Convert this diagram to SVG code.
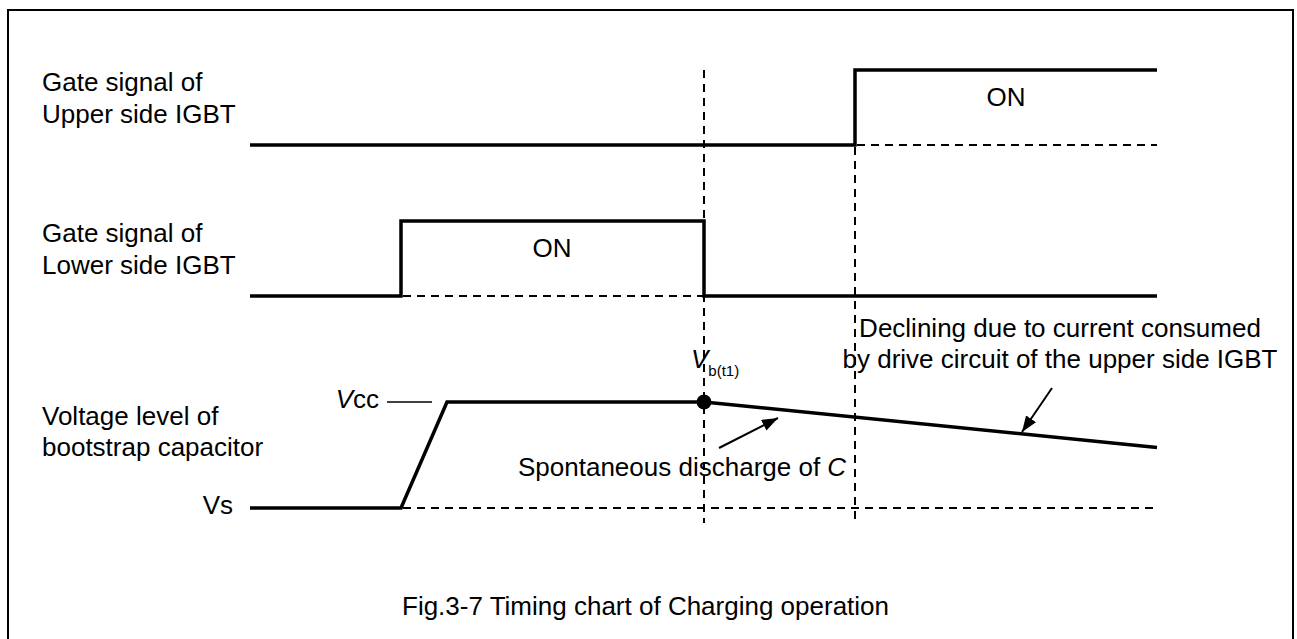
<svg xmlns="http://www.w3.org/2000/svg" width="1297" height="639" viewBox="0 0 1297 639">
<style>
text{font-family:"Liberation Sans",Arial,sans-serif;font-size:26px;fill:#000}
.w{fill:none;stroke:#000;stroke-width:3.5;stroke-linejoin:miter;stroke-linecap:butt}
.d{fill:none;stroke:#000;stroke-width:2;stroke-dasharray:8 6}
.t{fill:none;stroke:#000;stroke-width:1.5}
.a{fill:none;stroke:#000;stroke-width:2}
.i{font-style:italic}
.sub{font-size:15px}
</style>
<defs>
<marker id="ah" viewBox="0 0 16 12" refX="16" refY="6" markerWidth="16" markerHeight="12" markerUnits="userSpaceOnUse" orient="auto">
<path d="M0,0 L16,6 L0,12 Z" fill="#000"/>
</marker>
</defs>
<rect x="8" y="10" width="1285" height="660" fill="none" stroke="#000" stroke-width="2"/>
<g id="guides">
<line class="d" x1="704" y1="70" x2="704" y2="523"/>
<line class="d" x1="855" y1="147" x2="855" y2="523"/>
<line class="d" x1="857" y1="145" x2="1157" y2="145"/>
<line class="d" x1="403" y1="296" x2="704" y2="296"/>
<line class="d" x1="403" y1="508" x2="1157" y2="508"/>
</g>
<g id="upper-gate">
<text x="42" y="91">Gate signal of</text>
<text x="42" y="123">Upper side IGBT</text>
<polyline class="w" points="250,145 855,145 855,70 1157,70"/>
<text x="1006" y="106" text-anchor="middle">ON</text>
</g>
<g id="lower-gate">
<text x="42" y="242">Gate signal of</text>
<text x="42" y="274">Lower side IGBT</text>
<polyline class="w" points="250,296 401,296 401,221 704,221 704,296 1157,296"/>
<text x="552" y="257" text-anchor="middle">ON</text>
</g>
<g id="bootstrap-voltage">
<text x="42" y="425">Voltage level of</text>
<text x="42" y="456">bootstrap capacitor</text>
<text x="233" y="514" text-anchor="end">Vs</text>
<text x="379" y="408" text-anchor="end"><tspan class="i">V</tspan>cc</text>
<line class="t" x1="387" y1="402" x2="432" y2="402"/>
<polyline class="w" points="250,508 401,508 447,402 704,402 1157,447.5"/>
<circle cx="704" cy="402" r="7.5" fill="#000"/>
<text x="691" y="368"><tspan class="i">V</tspan><tspan class="sub" dy="8">b(t1)</tspan></text>
</g>
<g id="labels">
<text x="518" y="476">Spontaneous discharge of <tspan class="i">C</tspan></text>
<text x="1060" y="337" text-anchor="middle">Declining due to current consumed</text>
<text x="1060" y="368" text-anchor="middle">by drive circuit of the upper side IGBT</text>
<text x="402" y="615">Fig.3-7 Timing chart of Charging operation</text>
</g>
<g id="connectors">
<line class="a" x1="719" y1="448" x2="778" y2="418" marker-end="url(#ah)"/>
<line class="a" x1="1052" y1="388" x2="1022" y2="432" marker-end="url(#ah)"/>
</g>
</svg>
